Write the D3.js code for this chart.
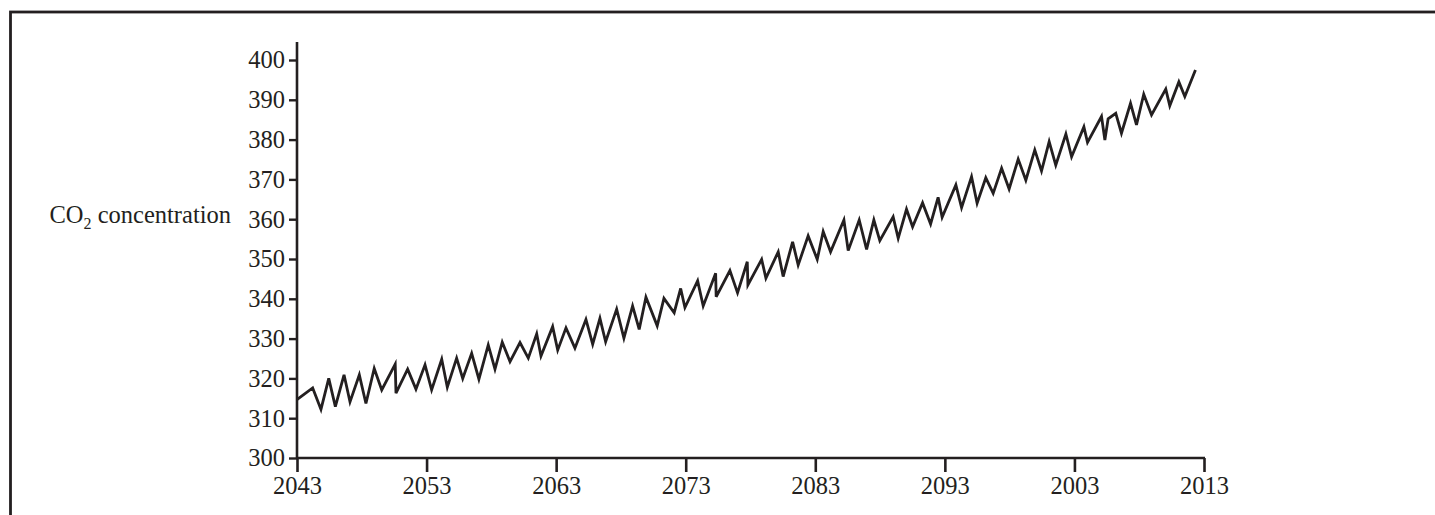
<!DOCTYPE html>
<html>
<head>
<meta charset="utf-8">
<script src="https://cdn.jsdelivr.net/npm/d3@7"></script>
<style>
  body { margin: 0; background: #ffffff; }
  svg { display: block; }
</style>
</head>
<body>
<svg id="chart" width="1435" height="515"></svg>
<script>
// Time position along the x axis (0 = first label, 70 = last label) and CO2 values
var timeSteps = [0.02,1.21,1.85,2.45,2.96,3.63,4.09,4.81,5.32,5.96,
    6.54,7.58,7.64,8.54,9.18,9.88,10.39,11.17,11.60,12.32,
    12.79,13.48,14.04,14.76,15.28,15.84,16.44,17.21,17.85,18.50,
    18.83,19.73,20.12,20.76,21.45,22.30,22.82,23.38,23.82,24.67,
    25.23,25.90,26.41,26.93,27.80,28.32,29.11,29.61,29.94,30.92,
    31.35,32.31,32.35,33.41,34.00,34.75,34.80,35.86,36.19,37.14,
    37.52,38.25,38.68,39.45,40.15,40.61,41.18,42.21,42.54,43.39,
    43.96,44.52,44.98,46.01,46.40,47.04,47.51,48.28,48.90,49.48,
    49.79,50.85,51.29,52.06,52.49,53.16,53.73,54.38,54.96,55.66,
    56.25,56.94,57.46,58.05,58.56,59.34,59.78,60.73,61.01,62.09,
    62.35,62.60,63.19,63.63,64.33,64.79,65.35,65.95,67.05,67.36,
    68.06,68.52,69.34];

var co2Values = [314.7,317.6,312.2,320.0,312.9,320.9,314.1,320.9,313.7,322.5,
    317.1,323.6,316.3,322.3,317.3,323.4,317.1,324.8,317.8,325.1,
    320.0,326.3,319.8,328.4,322.3,329.1,324.2,329.0,325.1,331.2,
    325.6,333.0,327.1,332.7,327.6,334.8,328.6,335.1,329.2,337.4,
    330.1,338.2,332.3,340.4,333.2,340.1,336.5,342.6,337.8,344.5,
    338.2,346.4,340.5,347.1,341.5,349.3,343.5,349.9,345.2,351.8,
    345.6,354.3,348.5,355.8,349.9,356.9,351.8,359.8,352.1,359.8,
    352.4,359.8,354.6,360.6,355.2,362.5,358.1,364.1,358.8,365.5,
    360.5,368.6,362.9,370.7,364.0,370.4,366.5,372.8,367.6,375.1,
    369.8,377.4,372.1,379.5,373.6,381.4,375.7,383.2,379.3,385.8,
    379.9,385.2,386.6,381.6,389.1,383.7,391.4,386.2,392.7,388.5,
    394.5,390.8,397.5];

// Tick labels (the x labels are printed as they appear in the picture)
var yearLabels = ["2043","2053","2063","2073","2083","2093","2003","2013"];
var yearTicks = [0,10,20,30,40,50,60,70];
var yTicks = [300,310,320,330,340,350,360,370,380,390,400];

var ink = "#231f20";
var serif = "'Liberation Serif', 'DejaVu Serif', serif";
var svg = d3.select("#chart");

// Outer frame (only the top and left edges fall inside the picture)
svg.append("rect")
    .attr("x", 10.5)
    .attr("y", 12)
    .attr("width", 1500)
    .attr("height", 600)
    .style("fill", "none")
    .style("stroke", ink)
    .style("stroke-width", 2.8);

// Scales
var x = d3.scaleLinear().domain([0, 70]).range([297, 1204]);
var y = d3.scaleLinear().domain([300, 400]).range([458, 60]);

// Y axis
var yAxis = svg.append("g")
    .attr("transform", "translate(" + x(0) + ",0)")
    .call(d3.axisLeft(y).tickValues(yTicks).tickSize(8).tickPadding(4).tickFormat(d3.format("d")));
yAxis.select(".domain").remove();
yAxis.append("line")
    .attr("x1", 0).attr("x2", 0)
    .attr("y1", 42).attr("y2", y(300))
    .style("stroke", ink).style("stroke-width", 2.6);
yAxis.selectAll(".tick line").style("stroke", ink).style("stroke-width", 2.4);
yAxis.selectAll(".tick text")
    .style("font-family", serif)
    .style("font-size", "24.5px")
    .style("fill", ink);

// X axis
var xAxis = svg.append("g")
    .attr("transform", "translate(0," + y(300) + ")")
    .call(d3.axisBottom(x).tickValues(yearTicks).tickSize(14).tickPadding(5)
        .tickFormat(function(d, i) { return yearLabels[i]; }));
xAxis.select(".domain").remove();
xAxis.append("line")
    .attr("x1", x(0)).attr("x2", x(70) + 1)
    .attr("y1", 0).attr("y2", 0)
    .style("stroke", ink).style("stroke-width", 2.6);
xAxis.selectAll(".tick line").style("stroke", ink).style("stroke-width", 2.6);
xAxis.selectAll(".tick text")
    .style("font-family", serif)
    .style("font-size", "24.5px")
    .style("fill", ink);

// Y axis title with subscript
var yTitle = svg.append("text")
    .attr("x", 231)
    .attr("y", 223)
    .attr("text-anchor", "end")
    .style("font-family", serif)
    .style("font-size", "24.5px")
    .style("fill", ink);
yTitle.append("tspan").text("CO");
yTitle.append("tspan").attr("dy", 6).style("font-size", "16px").text("2");
yTitle.append("tspan").attr("dy", -6).text(" concentration");

// The CO2 line
var points = timeSteps.map(function(t, i) { return {t: t, v: co2Values[i]}; });
var line = d3.line()
    .x(function(d) { return x(d.t); })
    .y(function(d) { return y(d.v); });

svg.append("path")
    .datum(points)
    .attr("d", line)
    .style("fill", "none")
    .style("stroke", ink)
    .style("stroke-width", 2.8)
    .style("stroke-linejoin", "miter")
    .style("stroke-miterlimit", 4);
</script>
</body>
</html>
